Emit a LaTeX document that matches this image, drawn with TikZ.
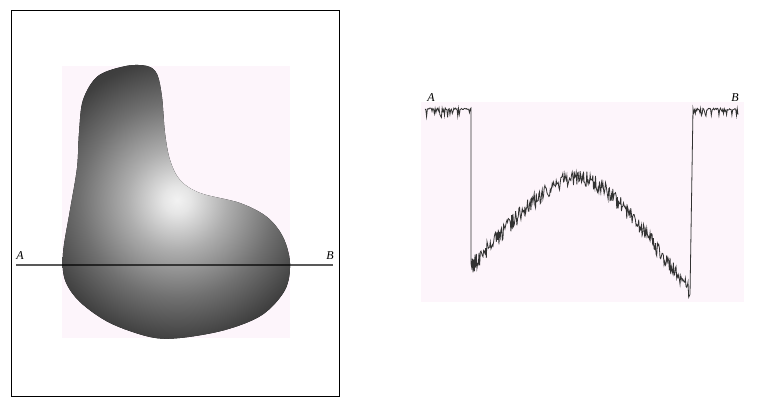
\documentclass[tikz,border=0pt]{standalone}
\usepackage{fontspec}
\setmainfont{Liberation Serif}
\pgfdeclareradialshading{blobshade}{\pgfpoint{0bp}{0bp}}{%
color(0bp)=(black!5); color(2bp)=(black!10); color(7.4bp)=(black!32);
color(14.3bp)=(black!56); color(20.6bp)=(black!75); color(25bp)=(black!80); color(50bp)=(black!80)}
\definecolor{pinkbg}{RGB}{253,245,251}
\definecolor{ink}{RGB}{50,50,50}
\tikzset{
  lbl/.style={font=\fontsize{12}{14}\selectfont\itshape, inner sep=0pt},
  frame/.style={draw=black, line width=0.9pt},
  cut/.style={draw=black, opacity=0.65, line width=1.2pt},
  prof/.style={draw=ink, line width=0.8pt, line join=miter}
}
\begin{document}
\begin{tikzpicture}[x=1pt,y=-1pt]
\useasboundingbox (0,0) rectangle (773,409);
\fill[white] (0,0) rectangle (773,409);
% left panel
\draw[frame] (11,10) rectangle (339,396);
\fill[pinkbg] (62,66) rectangle (290,338);
\begin{scope}
\clip plot[smooth cycle, tension=0.55] coordinates {
 (126,66) (147,66) (157,74) (162,97) (165,133) (170,160) (180,180) (200,193)
 (240,203) (267,217) (283,237) (290,263) (285,290) (262,315) (225,330)
 (180,338) (150,337) (110,323) (80,302) (65,280) (63,253) (70,210)
 (77,168) (79,133) (83,100) (98,76)};
\fill[shading=blobshade] (7,30) rectangle (347,370);
\end{scope}
\coordinate (la) at (16,265);
\coordinate (lb) at (333,265);
\draw[cut] (la) -- (lb);
\node[lbl] (A1) at (20,256) {A};
\node[lbl] (B1) at (330,256) {B};
% right panel
\fill[pinkbg] (421,102) rectangle (744,302);
\pgfmathsetseed{11}
\draw[prof] plot[domain=425:471, samples=60] (\x, {108 + 2*rnd + 8*(rnd>0.7)*rnd})
  -- plot[domain=471:690, samples=330]
     (\x, {178 + (\x<578 ? 1.2 : 1.45)*(sqrt((\x-578)^2+1600)-40) + 16*(rnd-0.5)})
  -- plot[domain=693:738, samples=60] (\x, {108 + 2*rnd + 8*(rnd>0.7)*rnd});
\node[lbl] (A2) at (431,98) {A};
\node[lbl] (B2) at (735,98) {B};
\end{tikzpicture}
\end{document}
